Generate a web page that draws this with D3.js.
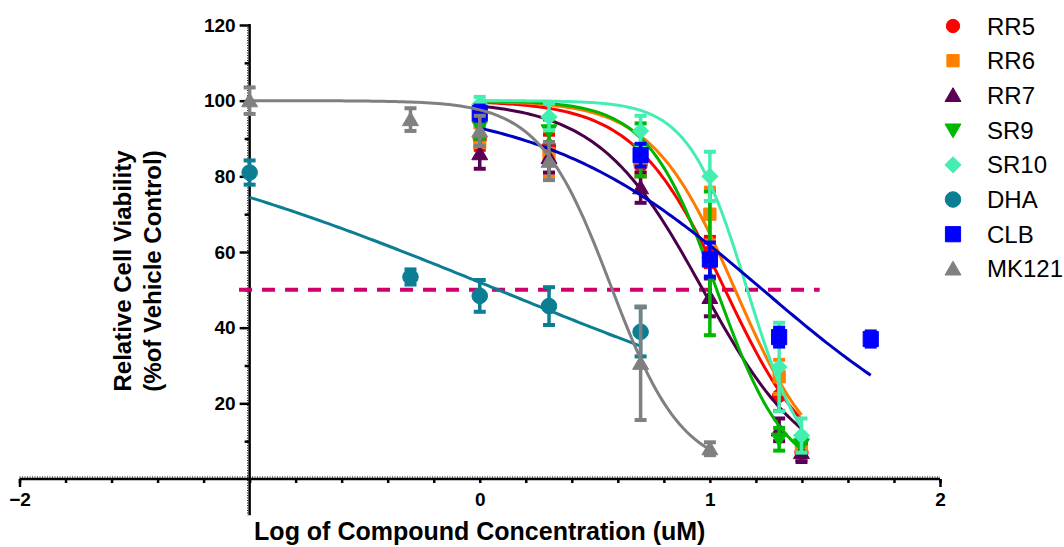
<!DOCTYPE html>
<html>
<head>
<meta charset="utf-8">
<script src="https://cdn.jsdelivr.net/npm/d3@7"></script>
<style>
  html, body { margin: 0; padding: 0; background: #fff; }
  svg { display: block; }
  text { font-family: "Liberation Sans", Arial, sans-serif; }
</style>
</head>
<body>
<div id="chart"></div>
<script>
// Dose–response viability data, log10(uM) on x, % of vehicle control on y
var seriesNames = ["RR5", "RR6", "RR7", "SR9", "SR10", "DHA", "CLB", "MK121"];
var seriesColors = ["#ff0000", "#ff8000", "#5c0056", "#00b800", "#44eeb0", "#0b7e94", "#0000ff", "#808080"];
var curveColors = ["#ff0000", "#ff7a00", "#4a0048", "#00b400", "#44eeb0", "#0b7e94", "#0000c0", "#808080"];
var seriesSymbols = ["circle", "square", "triUp", "triDown", "diamond", "circleBig", "squareBig", "triUp"];

var rrX = [0, 0.301, 0.699, 1, 1.301, 1.398];
var dhaX = [-1, -0.301, 0, 0.301, 0.699];
var clbX = [0, 0.699, 1, 1.301, 1.699];
var mk121X = [-1, -0.301, 0, 0.301, 0.699, 1];

var rr5Mean = [90, 88, 83, 60, 22, 7];
var rr5Sem = [3, 3, 3, 4, 4, 2];
var rr6Mean = [89, 86, 84, 70, 27, 9];
var rr6Sem = [4, 6, 3, 7, 4.5, 2.5];
var rr7Mean = [86, 85, 77, 48, 13, 7];
var rr7Sem = [4, 4, 4, 5, 3, 2.5];
var sr9Mean = [93, 92, 87, 57, 10.5, 9];
var sr9Sem = [3, 3, 7, 19, 3, 2];
var sr10Mean = [99, 95.7, 92, 80, 29.6, 11.5];
var sr10Sem = [2, 3.5, 4, 6.5, 11.7, 4.5];
var dhaMean = [81, 53.4, 48.4, 45.7, 38.9];
var dhaSem = [3.2, 2, 4.2, 5, 6.5];
var clbMean = [96.7, 85.6, 58, 37.5, 37];
var clbSem = [2, 3, 4.5, 2.5, 2];
var mk121Mean = [100, 95, 92, 84, 30.6, 8];
var mk121Sem = [3.5, 3, 4, 5, 15, 1.7];

// four-parameter logistic fit per series
var fitTop = [100, 100, 100, 100, 100, 100, 100, 100];
var fitBottom = [0, 0, 0, 0, 0, 0, 0, 2];
var fitLogIC50 = [1.066, 1.11, 0.97, 1.03, 1.163, 0.08, 1.23, 0.57];
var fitHill = [2.2, 2.4, 1.9, 2.9, 3.4, 0.43, 0.9, 2.8];
var fitFrom = [0, 0, 0, 0, 0, -1, 0, -1];
var fitTo = [1.398, 1.398, 1.398, 1.398, 1.398, 0.699, 1.699, 1];

var xTickLabels = [-2, 0, 1, 2];
var yTickLabels = [20, 40, 60, 80, 100, 120];
var halfLine = { y: 50, from: -1.046, to: 1.477 };

var allX = [rrX, rrX, rrX, rrX, rrX, dhaX, clbX, mk121X];
var allMean = [rr5Mean, rr6Mean, rr7Mean, sr9Mean, sr10Mean, dhaMean, clbMean, mk121Mean];
var allSem = [rr5Sem, rr6Sem, rr7Sem, sr9Sem, sr10Sem, dhaSem, clbSem, mk121Sem];

var W = 1064, H = 547;
var svg = d3.select("#chart").append("svg").attr("width", W).attr("height", H);

var x = d3.scaleLinear().domain([-2, 2]).range([19.5, 940]);
var y = d3.scaleLinear().domain([0, 120]).range([479, 25]);

function symbolPath(kind) {
  var s;
  switch (kind) {
    case "circle": s = d3.symbol(d3.symbolCircle, 140); break;
    case "circleBig": s = d3.symbol(d3.symbolCircle, 190); break;
    case "square": s = d3.symbol(d3.symbolSquare, 150); break;
    case "squareBig": s = d3.symbol(d3.symbolSquare, 230); break;
    case "triUp": case "triDown": s = d3.symbol(d3.symbolTriangle, 110); break;
    case "diamond": s = d3.symbol(d3.symbolSquare, 125); break;
  }
  return s();
}
function placeSymbol(sel, kind, px, py) {
  var t = "translate(" + px + "," + py + ")";
  if (kind === "triDown") t += " rotate(180)";
  if (kind === "triUp" || kind === "triDown") t += " translate(0,1.5)";
  if (kind === "diamond") t += " rotate(45)";
  sel.append("path")
    .attr("d", symbolPath(kind))
    .attr("transform", t)
    .attr("stroke-linejoin", "round");
}

// axes
var axisG = svg.append("g");

var yMajor = d3.axisLeft(y).tickValues(yTickLabels).tickSize(10).tickPadding(4).tickFormat(d3.format("d"));
var yMinor = d3.axisLeft(y).tickValues([10, 30, 50, 70, 90, 110]).tickSize(5).tickFormat("");
var gy = axisG.append("g").attr("transform", "translate(" + x(-1) + ",0)").call(yMajor);
var gy2 = axisG.append("g").attr("transform", "translate(" + x(-1) + ",0)").call(yMinor);
[gy, gy2].forEach(function (g) {
  g.select(".domain").remove();
  g.selectAll("line").attr("stroke", "#000").attr("stroke-width", 2.5);
});
gy.selectAll("text").attr("font-size", 19).attr("font-weight", "bold").attr("fill", "#000");

var xMinor = d3.axisBottom(x).tickValues(d3.range(0, 21).map(function (i) { return -2 + i * 0.2; }))
  .tickSize(4).tickFormat("");
var xEnds = d3.axisBottom(x).tickValues([-2, 2]).tickSize(8).tickFormat("");
var xLabels = d3.axisBottom(x).tickValues(xTickLabels).tickSize(0).tickPadding(14).tickFormat(d3.format("d"));
[xMinor, xEnds, xLabels].forEach(function (ax) {
  var g = axisG.append("g").attr("transform", "translate(0," + y(0) + ")").call(ax);
  g.select(".domain").remove();
  g.selectAll("line").attr("stroke", "#000").attr("stroke-width", 2.5);
  g.selectAll("text").attr("font-size", 19).attr("font-weight", "bold").attr("fill", "#000");
});

// axis lines with fine dotted edge
axisG.append("line").attr("x1", x(-2)).attr("x2", x(2)).attr("y1", y(0)).attr("y2", y(0))
  .attr("stroke", "#000").attr("stroke-width", 2.5);
axisG.append("line").attr("x1", x(-2)).attr("x2", x(2)).attr("y1", y(0) - 2).attr("y2", y(0) - 2)
  .attr("stroke", "#000").attr("stroke-width", 1).attr("stroke-dasharray", "1,1.5");
axisG.append("line").attr("x1", x(-1)).attr("x2", x(-1)).attr("y1", y(120) - 1).attr("y2", y(-9.6))
  .attr("stroke", "#000").attr("stroke-width", 2.5);
axisG.append("line").attr("x1", x(-1) - 2).attr("x2", x(-1) - 2).attr("y1", y(120)).attr("y2", y(-9.6))
  .attr("stroke", "#000").attr("stroke-width", 1).attr("stroke-dasharray", "1,1.5");

// axis titles
svg.append("text")
  .attr("x", x(0)).attr("y", 540)
  .attr("text-anchor", "middle").attr("font-size", 25).attr("font-weight", "bold")
  .text("Log of Compound Concentration (uM)");
var yt = svg.append("text")
  .attr("transform", "translate(131,271) rotate(-90)")
  .attr("text-anchor", "middle").attr("font-size", 24).attr("font-weight", "bold");
yt.append("tspan").attr("x", 0).attr("dy", 0).text("Relative Cell Viability");
yt.append("tspan").attr("x", 0).attr("dy", 30).text("(%of Vehicle Control)");

// 50% reference line
svg.append("line")
  .attr("x1", x(halfLine.from)).attr("x2", x(halfLine.to))
  .attr("y1", y(halfLine.y)).attr("y2", y(halfLine.y))
  .attr("stroke", "#d0006a").attr("stroke-width", 4).attr("stroke-dasharray", "13,10");

var line = d3.line().x(function (d) { return x(d[0]); }).y(function (d) { return y(d[1]); });

seriesNames.forEach(function (name, i) {
  var g = svg.append("g").attr("class", "series-" + name);
  var col = seriesColors[i];

  // fitted curve
  var n = 120, pts = [];
  for (var k = 0; k <= n; k++) {
    var lx = fitFrom[i] + (fitTo[i] - fitFrom[i]) * k / n;
    var v = fitBottom[i] + (fitTop[i] - fitBottom[i]) / (1 + Math.pow(10, (lx - fitLogIC50[i]) * fitHill[i]));
    pts.push([lx, v]);
  }
  g.append("path").datum(pts).attr("d", line)
    .attr("fill", "none").attr("stroke", curveColors[i]).attr("stroke-width", 3);

  var pts2 = allX[i].map(function (lx, j) { return { x: lx, m: allMean[i][j], e: allSem[i][j] }; });

  // error bars
  var eb = g.append("g").attr("stroke", col);
  pts2.forEach(function (d) {
    eb.append("line").attr("x1", x(d.x)).attr("x2", x(d.x)).attr("y1", y(d.m + d.e)).attr("y2", y(d.m - d.e))
      .attr("stroke-width", 3.5);
    [d.m + d.e, d.m - d.e].forEach(function (v) {
      eb.append("line").attr("x1", x(d.x) - 6).attr("x2", x(d.x) + 6).attr("y1", y(v)).attr("y2", y(v))
        .attr("stroke-width", 4);
    });
  });

  // markers
  var mk = g.append("g").attr("fill", col).attr("stroke", col).attr("stroke-width", 1);
  pts2.forEach(function (d) { placeSymbol(mk, seriesSymbols[i], x(d.x), y(d.m)); });
});

// legend
var legend = svg.append("g").attr("transform", "translate(953,26)");
seriesNames.forEach(function (name, i) {
  var row = legend.append("g").attr("transform", "translate(0," + (i * 34.7) + ")");
  var mk = row.append("g").attr("fill", seriesColors[i]).attr("stroke", seriesColors[i]).attr("stroke-width", 1);
  placeSymbol(mk, seriesSymbols[i], 0, 0);
  row.append("text").attr("x", 34).attr("y", 8.5).attr("font-size", 24).attr("fill", "#000").text(name);
});
</script>
</body>
</html>
